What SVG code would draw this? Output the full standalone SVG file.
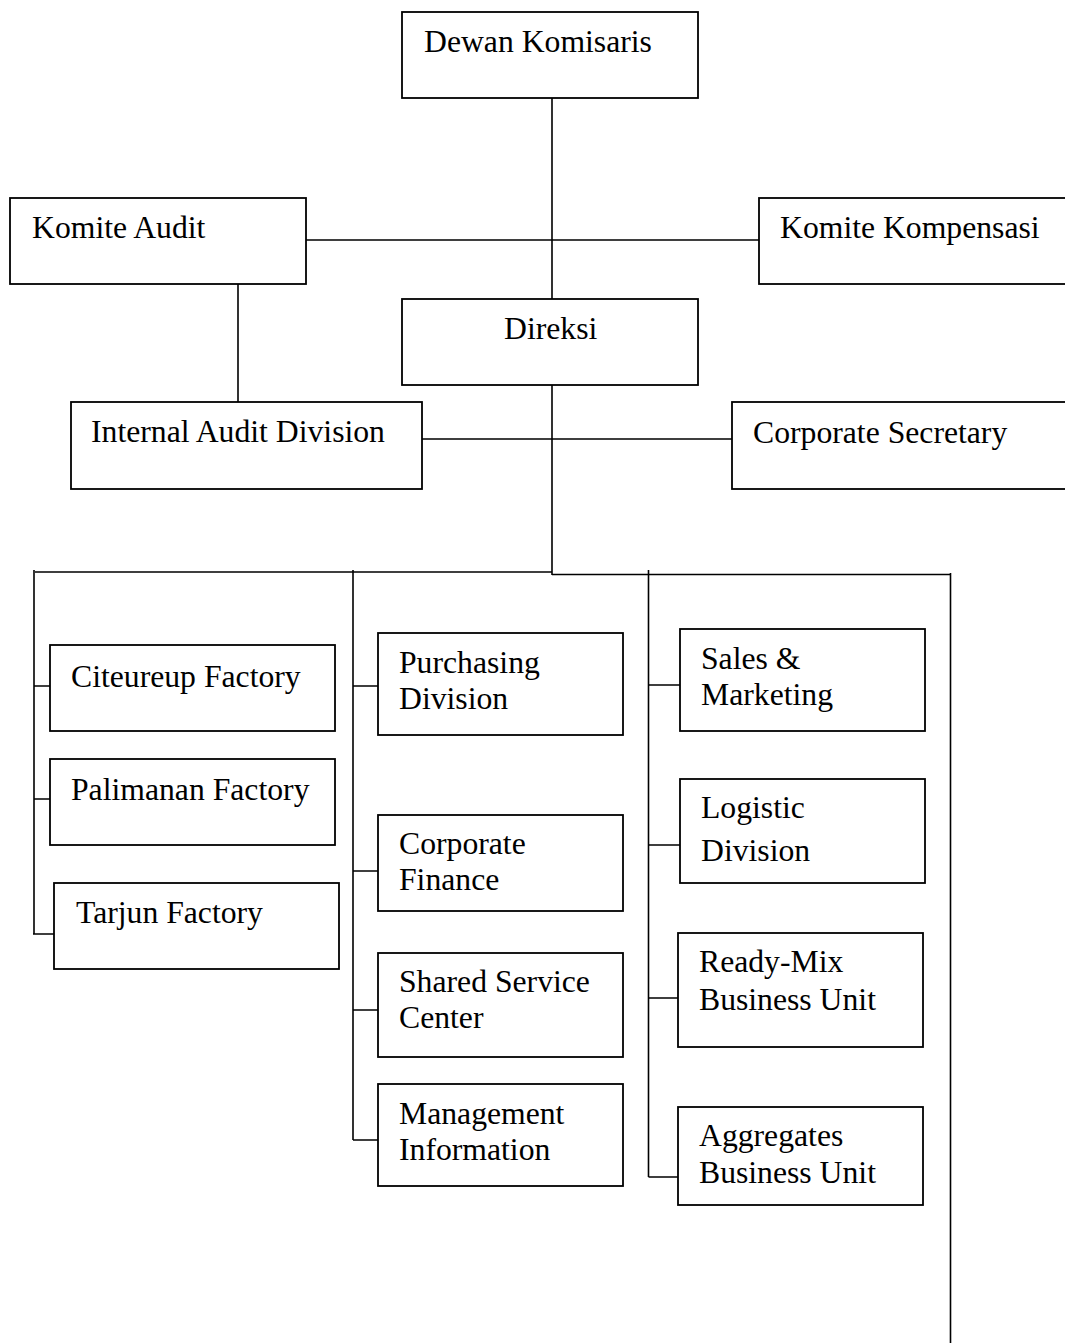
<svg xmlns="http://www.w3.org/2000/svg" width="1065" height="1343" viewBox="0 0 1065 1343">
<style>
.box{fill:#fff;stroke:#000;stroke-width:1.8}
.ln{fill:none;stroke:#000;stroke-width:1.6}
text{font-family:"Liberation Serif","Times New Roman",serif;font-size:31.7px;fill:#000}
</style>
<rect width="1065" height="1343" fill="#fff"/>
<g id="connectors">
<path class="ln" d="M552,98V299 M306,240H759 M238,284V402 M552,385V575 M422,439H732"/>
<path class="ln" d="M35,572H552 M552,574.5H950.5 M34,570V934 M353,570V1140 M648.5,570V1177 M950.5,573V1343"/>
<path class="ln" d="M34,686H50 M34,799H54 M33,934H54"/>
<path class="ln" d="M353,686H378 M353,871H378 M353,1010H378 M353,1140H378"/>
<path class="ln" d="M648.5,685H680 M648.5,845H680 M648.5,998H678 M648.5,1177H678"/>
</g>
<g id="dewan-komisaris"><rect class="box" x="402" y="12" width="296" height="86"/><text x="424" y="52">Dewan Komisaris</text></g>
<g id="komite-audit"><rect class="box" x="10" y="198" width="296" height="86"/><text x="32" y="238">Komite Audit</text></g>
<g id="komite-kompensasi"><rect class="box" x="759" y="198" width="320" height="86"/><text x="780" y="238">Komite Kompensasi</text></g>
<g id="direksi"><rect class="box" x="402" y="299" width="296" height="86"/><text x="504" y="339">Direksi</text></g>
<g id="internal-audit"><rect class="box" x="71" y="402" width="351" height="87"/><text x="91" y="442">Internal Audit Division</text></g>
<g id="corporate-secretary"><rect class="box" x="732" y="402" width="350" height="87"/><text x="753" y="443">Corporate Secretary</text></g>
<g id="citeureup"><rect class="box" x="50" y="645" width="285" height="86"/><text x="71" y="687">Citeureup Factory</text></g>
<g id="palimanan"><rect class="box" x="50" y="759" width="285" height="86"/><text x="71" y="800">Palimanan Factory</text></g>
<g id="tarjun"><rect class="box" x="54" y="883" width="285" height="86"/><text x="76" y="923">Tarjun Factory</text></g>
<g id="purchasing"><rect class="box" x="378" y="633" width="245" height="102"/><text x="399" y="673">Purchasing</text><text x="399" y="709">Division</text></g>
<g id="corporate-finance"><rect class="box" x="378" y="815" width="245" height="96"/><text x="399" y="854">Corporate</text><text x="399" y="890">Finance</text></g>
<g id="shared-service"><rect class="box" x="378" y="953" width="245" height="104"/><text x="399" y="992">Shared Service</text><text x="399" y="1028">Center</text></g>
<g id="management-info"><rect class="box" x="378" y="1084" width="245" height="102"/><text x="399" y="1124">Management</text><text x="399" y="1160">Information</text></g>
<g id="sales-marketing"><rect class="box" x="680" y="629" width="245" height="102"/><text x="701" y="669">Sales &amp;</text><text x="701" y="705">Marketing</text></g>
<g id="logistic"><rect class="box" x="680" y="779" width="245" height="104"/><text x="701" y="818">Logistic</text><text x="701" y="861">Division</text></g>
<g id="ready-mix"><rect class="box" x="678" y="933" width="245" height="114"/><text x="699" y="972">Ready-Mix</text><text x="699" y="1010">Business Unit</text></g>
<g id="aggregates"><rect class="box" x="678" y="1107" width="245" height="98"/><text x="699" y="1146">Aggregates</text><text x="699" y="1183">Business Unit</text></g>
</svg>
